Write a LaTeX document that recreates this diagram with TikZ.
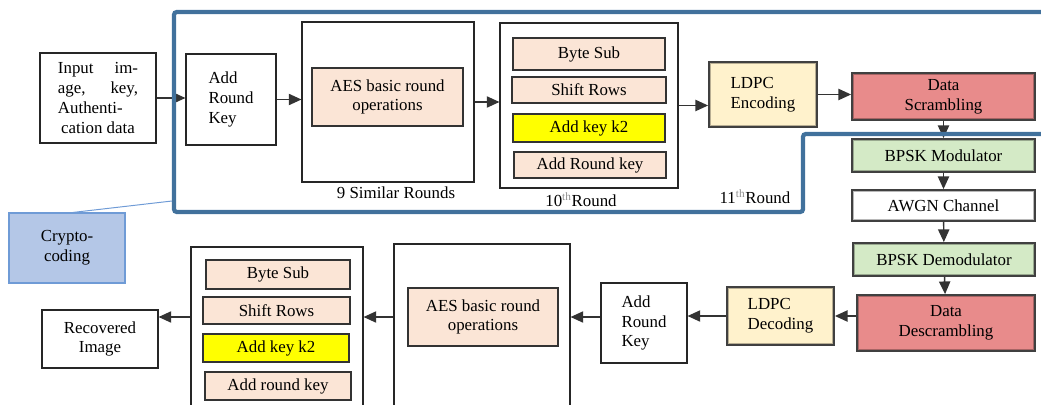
\documentclass[tikz,border=0pt]{standalone}
\usepackage{fontspec}
\setmainfont{Liberation Serif}
\usetikzlibrary{arrows.meta}
\definecolor{oppeach}{HTML}{FBE5D6}
\definecolor{keyyellow}{HTML}{FFFF00}
\definecolor{ldpccream}{HTML}{FFF2CC}
\definecolor{scramblered}{HTML}{E88B8B}
\definecolor{bpskgreen}{HTML}{D4EAC6}
\definecolor{framblue}{HTML}{41719C}
\definecolor{cryptofill}{HTML}{B4C7E7}
\definecolor{cryptoedge}{HTML}{6F9BD6}

\begin{document}
\begin{tikzpicture}[
		x=0.25mm, y=-0.25mm,
		font=\rmfamily\fontsize{12}{14}\selectfont,
		plain/.style={draw=black!85, line width=0.8pt, fill=white, inner sep=1pt, align=center},
		op/.style={draw=black!80, line width=0.9pt, fill=oppeach, inner sep=1pt, align=center},
		keyop/.style={op, fill=keyyellow},
		bevel/.style={draw=black!75, line width=1.3pt, fill=#1, inner sep=1pt, align=center,
			path picture={\draw[#1!72!black, line width=3pt]
				(path picture bounding box.south west) rectangle (path picture bounding box.north east);}},
		tag/.style={inner sep=0pt},
		flow/.style={draw=black!80, line width=1pt, -{Triangle[length=9pt,width=8pt]}},
	]

	\useasboundingbox (0,0) rectangle (1041,405);

	% transmitter side
	\node[plain, minimum width=2.9cm, minimum height=2.25cm] (input) at (98,98)
	{\makebox[2cm][s]{Input im-}\\\makebox[2cm][s]{age, key,}\\\makebox[2cm][s]{Authenti-}\\cation data};

	\node[plain, align=left, minimum width=2.25cm, minimum height=2.275cm] (ark1) at (231,99.5)
	{Add\\Round\\Key};

	\node[plain, minimum width=4.3cm, minimum height=4.0cm] (rounds9) at (388,102) {};
	\node[op, minimum width=3.775cm, minimum height=1.45cm] (aes1) at (387.5,97)
	{AES basic round\\operations};
	\node[tag] (lbl9) at (396,193) {9 Similar Rounds};

	\node[plain, minimum width=4.45cm, minimum height=4.125cm] (round10) at (589,105.5) {};
	\node[op, minimum width=3.8cm, minimum height=0.8cm] (bytesub1) at (589,54) {Byte Sub};
	\node[op, minimum width=3.85cm, minimum height=0.65cm] (shift1) at (589,90) {Shift Rows};
	\node[keyop, minimum width=3.8cm, minimum height=0.7cm] (keytwo1) at (589,128) {Add key k2};
	\node[op, minimum width=3.8cm, minimum height=0.65cm] (lastkey1) at (590,165) {Add Round key};
	\node[tag] (lbl10) at (581,200) {10\textsuperscript{\color{black!45}th}Round};

	\node[bevel=ldpccream, align=left, minimum width=2.7cm, minimum height=1.625cm] (ldpcenc) at (763,94.5)
	{LDPC\\Encoding};
	\node[tag] (lbl11) at (755,197) {11\textsuperscript{\color{black!45}th}Round};

	% channel chain
	\node[bevel=scramblered, minimum width=4.575cm, minimum height=1.175cm] (scramble) at (943.5,96.5)
	{Data\\Scrambling};
	\node[bevel=bpskgreen, minimum width=4.575cm, minimum height=0.825cm] (bpskmod) at (943.5,155.5)
	{BPSK Modulator};
	\node[bevel=white, minimum width=4.575cm, minimum height=0.775cm] (awgn) at (943.5,205.5)
	{AWGN Channel};
	\node[bevel=bpskgreen, minimum width=4.55cm, minimum height=0.825cm] (bpskdem) at (944,259.5)
	{BPSK Demodulator};
	\node[bevel=scramblered, minimum width=4.45cm, minimum height=1.4cm] (descramble) at (946,323)
	{Data\\Descrambling};

	% receiver side
	\node[bevel=ldpccream, align=left, minimum width=2.675cm, minimum height=1.45cm] (ldpcdec) at (780.5,316)
	{LDPC\\Decoding};

	\node[plain, align=left, minimum width=2.15cm, minimum height=2.0cm] (ark2) at (644,323)
	{Add\\Round\\Key};

	\node[plain, minimum width=4.4cm, minimum height=4.275cm] (rounds9b) at (482,329.5) {};
	\node[op, minimum width=3.75cm, minimum height=1.45cm] (aes2) at (483,317)
	{AES basic round\\operations};

	\node[plain, minimum width=4.3cm, minimum height=4.2cm] (round10b) at (277,331) {};
	\node[op, minimum width=3.6cm, minimum height=0.725cm] (bytesub2) at (278,274.5) {Byte Sub};
	\node[op, minimum width=3.675cm, minimum height=0.675cm] (shift2) at (276.5,310.5) {Shift Rows};
	\node[keyop, minimum width=3.65cm, minimum height=0.7cm] (keytwo2) at (276,348) {Add key k2};
	\node[op, minimum width=3.65cm, minimum height=0.7cm] (lastkey2) at (278,386) {Add round key};

	\node[plain, minimum width=2.9cm, minimum height=1.45cm] (recovered) at (100,339)
	{Recovered\\Image};

	% forward arrows
	\draw[flow] (input.east) -- (input.east -| ark1.west);
	\draw[flow] (ark1.east) -- (ark1.east -| rounds9.west);
	\draw[flow] (rounds9.east) -- (rounds9.east -| round10.west);
	\draw[flow] (round10.east) -- (round10.east -| ldpcenc.west);
	\draw[flow] (ldpcenc.east) -- (ldpcenc.east -| scramble.west);
	\draw[flow] (scramble) -- (bpskmod);
	\draw[flow] (bpskmod) -- (awgn);
	\draw[flow] (awgn) -- (bpskdem);
	\draw[flow] (bpskdem) -- (descramble);

	% backward arrows
	\draw[flow] (descramble.west |- ldpcdec) -- (ldpcdec.east);
	\draw[flow] (ldpcdec.west) -- (ldpcdec.west -| ark2.east);
	\draw[flow] (ark2.west |- aes2) -- (rounds9b.east |- aes2);
	\draw[flow] (rounds9b.west |- aes2) -- (round10b.east |- aes2);
	\draw[flow] (round10b.west |- aes2) -- (recovered.east |- aes2);

	% crypto-coding frame and its label
	\draw[framblue, line width=3pt, rounded corners=2pt]
	(1050,12) -- (174,12) -- (174,212) -- (803,212) -- (803,134) -- (1050,134);

	\node[draw=cryptoedge, line width=0.8pt, fill=cryptofill, minimum width=2.9cm, minimum height=1.75cm,
		align=center] (crypto) at (67,248) {Crypto-\\coding};
	\coordinate (framehook) at (172,201);
	\draw[cryptoedge, line width=0.7pt] ([xshift=0.15cm]crypto.north) -- (framehook);

\end{tikzpicture}
\end{document}
